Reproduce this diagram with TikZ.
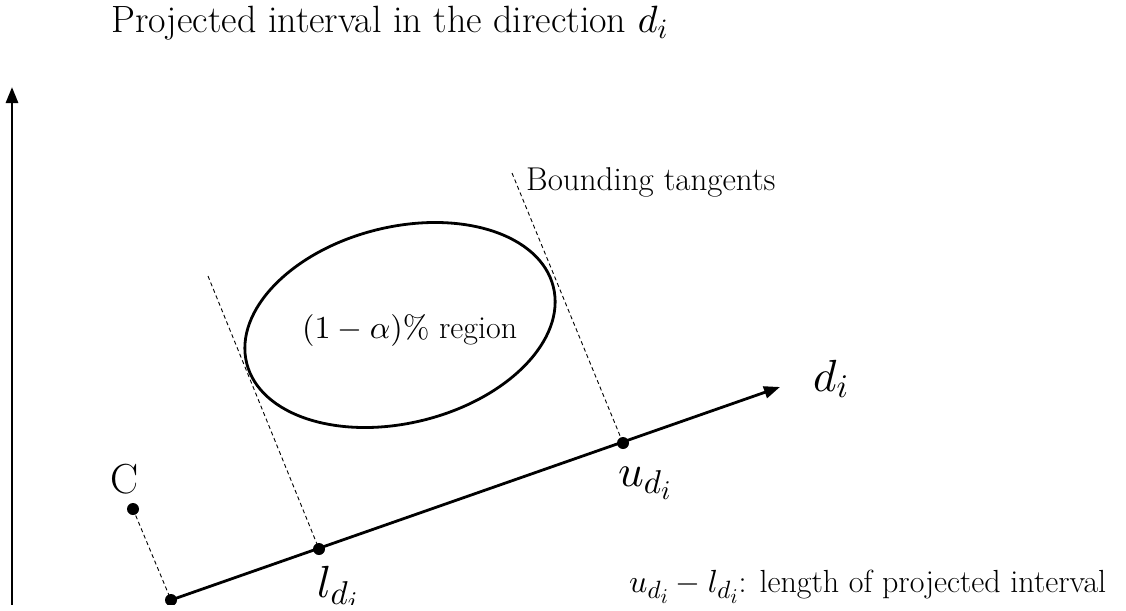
\documentclass[tikz,border=0pt]{standalone}
\usetikzlibrary{arrows.meta}
\DeclareFontShape{OML}{cmm}{m}{it}{<->cmmi10}{\skewchar\font'177}
\DeclareFontShape{OMS}{cmsy}{m}{n}{<->cmsy10}{\skewchar\font'60}
\DeclareFontShape{OT1}{cmr}{m}{n}{<->cmr10}{}
\DeclareFontShape{OMX}{cmex}{m}{n}{<->cmex10}{}
\DeclareMathSizes{32}{32}{25}{21}
\DeclareMathSizes{33}{33}{24}{20}
\DeclareMathSizes{38}{38}{28}{23}
\DeclareMathSizes{45}{45}{33}{27}
\begin{document}
\begin{tikzpicture}[x=1pt,y=-1pt,
  axisline/.style={line width=2.8pt,-{Triangle[length=16pt,width=12pt]}},
  tangent/.style={line width=0.9pt, dash pattern=on 4pt off 3pt},
  dotmark/.style={circle,fill=black,inner sep=0pt,minimum size=12pt},
  txt/.style={inner sep=0pt,anchor=base west,font=\fontsize{32}{36}\selectfont},
  lbl/.style={inner sep=0pt,anchor=base west,font=\fontsize{45}{50}\selectfont}]
\useasboundingbox (0,0) rectangle (1126,610);
\clip (0,0) rectangle (1126,604);
% axis
\coordinate (A0) at (12,615);
\coordinate (A1) at (12,87);
\draw[axisline] (A0) -- (A1);
% direction line and points
\node[dotmark] (O) at (171,600) {};
\node[dotmark] (L) at (319,549) {};
\node[dotmark] (U) at (623,443) {};
\node[dotmark] (C) at (133,509) {};
\coordinate (T) at (780,387);
\draw[axisline] (O.center) -- (T);
% tangents
\coordinate (LT) at (208,276);
\coordinate (RT) at (512,173);
\draw[tangent] (LT) -- (L.center);
\draw[tangent] (RT) -- (U.center);
\draw[tangent] (C.center) -- (O.center);
% ellipse
\coordinate (E) at (400,325);
\draw[line width=2.8pt] (E) ellipse [x radius=158pt, y radius=98pt, rotate=14];
% texts
\node[txt,font=\fontsize{38}{44}\selectfont] (title) at (111,33) {Projected interval in the direction $d_i$};
\node[txt,font=\fontsize{33}{38}\selectfont] (bt) at (526,190) {Bounding tangents};
\node[txt] (reg) at (302,338) {$(1-\alpha)\%$ region};
\node[txt] (len) at (629,592) {$u_{d_i}-l_{d_i}$: length of projected interval};
\node[lbl] (dl) at (813,391) {$d_i$};
\node[lbl] (ul) at (618,486) {$u_{d_i}$};
\node[lbl] (ll) at (317,597) {$l_{d_i}$};
\node[lbl,font=\fontsize{42}{48}\selectfont] (cl) at (110,493) {C};
\end{tikzpicture}
\end{document}
